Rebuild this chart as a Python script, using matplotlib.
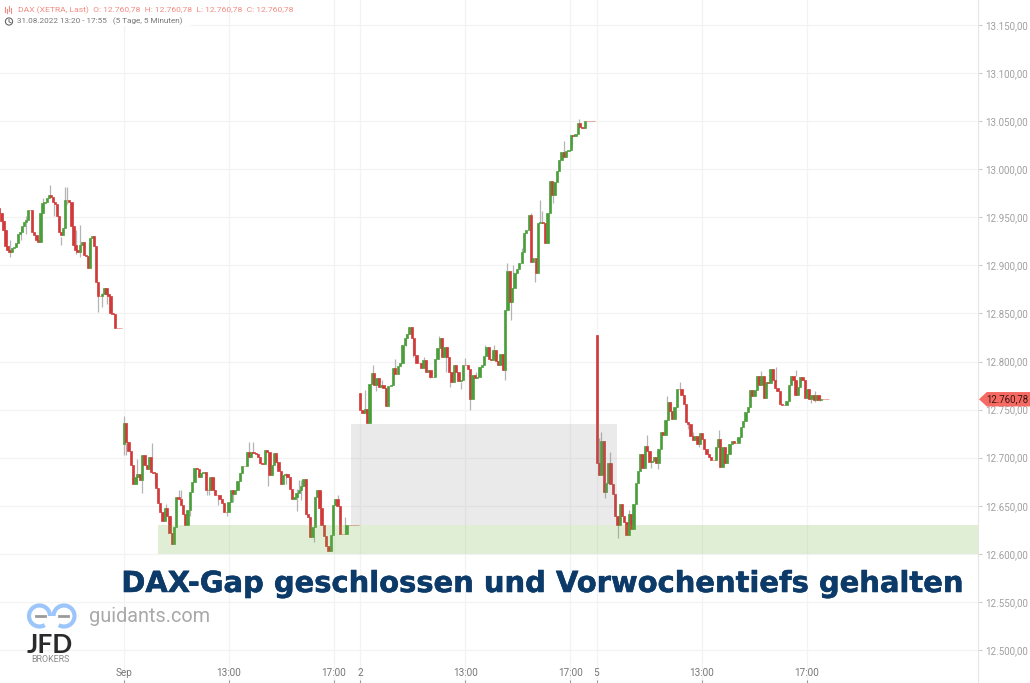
import numpy as np
import matplotlib
matplotlib.use('Agg')
import matplotlib.pyplot as plt
import matplotlib.patheffects as pe
from matplotlib.patches import Arc, Circle, Polygon, Rectangle

plt.rcParams['font.family'] = ['Roboto', 'DejaVu Sans']

# closing prices per session
open_0 = 12960
close_0 = [12954, 12946, 12937, 12920, 12916, 12914, 12918, 12919, 12923, 12933, 12935, 12941, 12945, 12947,
           12958, 12958, 12935, 12932, 12926, 12924, 12954, 12965, 12966, 12970, 12973, 12971, 12966, 12964,
           12951, 12935, 12932, 12939, 12968, 12968, 12966, 12941, 12921, 12916, 12914, 12921, 12924, 12911,
           12910, 12897, 12928, 12931, 12920, 12883, 12868, 12868, 12870, 12876, 12870, 12868, 12850, 12849,
           12835, 12835, 12835, 12835]
open_1 = 12714
close_1 = [12736, 12716, 12707, 12692, 12673, 12680, 12683, 12677, 12703, 12692, 12688, 12701,
           12685, 12684, 12669, 12653, 12644, 12634, 12648, 12639, 12622, 12610, 12628, 12659, 12657, 12651,
           12641, 12630, 12646, 12664, 12675, 12689, 12688, 12680, 12684, 12685, 12666, 12666, 12680, 12666,
           12661, 12661, 12657, 12653, 12644, 12644, 12654, 12666, 12662, 12666, 12676, 12684, 12691, 12691, 12706, 12701,
           12706, 12705, 12704, 12701, 12694, 12693, 12708, 12706, 12682, 12692, 12705, 12696, 12686, 12673,
           12682, 12683, 12680, 12667, 12657, 12659, 12663, 12666, 12671, 12678, 12641, 12638, 12618, 12628,
           12659, 12666, 12648, 12630, 12619, 12608, 12603, 12620, 12651, 12657, 12650, 12621, 12621, 12621,
           12630, 12630, 12630, 12630, 12630, 12630]
open_2 = 12767
close_2 = [12750, 12746, 12751, 12736, 12777, 12788, 12776, 12783, 12774, 12776, 12773, 12754, 12775, 12776,
           12793, 12787, 12795, 12798, 12817, 12824, 12829, 12836, 12824, 12807, 12798, 12798, 12793, 12802,
           12789, 12791, 12784, 12784, 12803, 12814, 12825, 12805, 12815, 12805, 12789, 12779, 12796, 12789,
           12780, 12781, 12796, 12796, 12792, 12761, 12786, 12783, 12784, 12794, 12796, 12806, 12815, 12803,
           12802, 12812, 12801, 12796, 12808, 12791, 12854, 12894, 12862, 12877, 12892, 12896, 12902, 12914,
           12934, 12937, 12952, 12904, 12908, 12892, 12944, 12945, 12944, 12923, 12955, 12988, 12973, 12987,
           12998, 13010, 13018, 13013, 13019, 13020, 13036, 13035, 13037, 13048, 13044, 13043, 13050, 13050,
           13050, 13050, 13050]
open_3 = 12828
close_3 = [12694, 12682, 12717, 12664, 12674, 12695, 12673, 12662, 12639, 12630, 12652, 12639, 12633, 12620,
           12641, 12626, 12652, 12674, 12686, 12704, 12689, 12712, 12707, 12696, 12697, 12701, 12694, 12709,
           12727, 12724, 12739, 12758, 12749, 12740, 12753, 12771, 12771, 12765, 12756, 12737, 12735, 12723,
           12718, 12723, 12714, 12726, 12719, 12709, 12704, 12701, 12698, 12698, 12711, 12719, 12690, 12711,
           12694, 12704, 12714, 12717, 12715, 12715, 12722, 12732, 12738, 12748, 12753, 12770, 12764, 12770,
           12785, 12776, 12785, 12762, 12779, 12778, 12792, 12781, 12772, 12769, 12756, 12755, 12755, 12759,
           12776, 12785, 12781, 12765, 12774, 12784, 12781, 12762, 12771, 12761, 12765, 12760, 12765, 12760,
           12760.78, 12760.78, 12760.78, 12760.78]

# grey wicks, x in 5 minute slots from Sep 1 09:00
wick_x = [-52, -47, -45, -37, -34, -32, -29, -27, -26, -22, -20, -16, -12, -10, -8,
          0, 1, 6, 8, 13, 14, 19, 25, 26, 30, 38, 39, 41, 43, 47, 50, 53, 57, 59, 66, 70, 74, 79, 80, 81, 87, 90, 98, 101,
          110, 114, 115, 118, 124, 129, 132, 137, 140, 144, 147, 149, 154, 156, 158, 161, 165, 169, 174, 175, 177, 178,
          182, 186, 188, 190, 191, 196, 201, 205, 208,
          217, 218, 220, 222, 226, 231, 239, 241, 244, 248, 250, 254, 258, 260, 263, 272, 280, 291, 298, 307, 314, 316, 318]
wick_low = [12909, 12926, 12933, 12954, 12971, 12951, 12921, 12964, 12964, 12912, 12909, 12899, 12852, 12857, 12860,
            12703, 12703, 12673, 12663, 12701, 12671, 12639, 12659, 12657, 12639, 12661, 12661, 12664, 12651, 12639, 12654, 12677,
            12701, 12705, 12671, 12694, 12673, 12645, 12666, 12656, 12612, 12649, 12657, 12621,
            12751, 12788, 12769, 12774, 12793, 12816, 12805, 12798, 12783, 12825, 12789, 12774, 12771, 12796, 12750, 12783,
            12815, 12802, 12781, 12894, 12843, 12892, 12914, 12952, 12883, 12944, 12945, 12965, 13013, 13025, 13048,
            12682, 12717, 12658, 12695, 12617, 12641, 12712, 12689, 12688, 12758, 12743, 12771, 12730, 12723, 12711,
            12719, 12717, 12785, 12779, 12785, 12757, 12758, 12759]
wick_high = [12926, 12940, 12951, 12970, 12984, 12964, 12930, 12982, 12982, 12937, 12942, 12923, 12871, 12871, 12871,
             12743, 12715, 12699, 12677, 12715, 12685, 12652, 12666, 12666, 12646, 12668, 12679, 12680, 12657, 12644, 12662, 12684,
             12716, 12716, 12682, 12701, 12684, 12667, 12677, 12677, 12618, 12664, 12661, 12638,
             12770, 12796, 12776, 12781, 12803, 12829, 12825, 12805, 12791, 12827, 12805, 12779, 12779, 12804, 12761, 12789,
             12817, 12817, 12791, 12902, 12862, 12900, 12918, 12955, 12892, 12968, 12957, 12973, 13029, 13035, 13052,
             12720, 12727, 12664, 12706, 12630, 12646, 12724, 12696, 12694, 12764, 12758, 12779, 12736, 12727, 12714,
             12729, 12721, 12790, 12794, 12791, 12762, 12769, 12765]

y_ticks = list(range(12500, 13151, 50))
y_labels = ['12.500,00', '12.550,00', '12.600,00', '12.650,00', '12.700,00', '12.750,00', '12.800,00',
            '12.850,00', '12.900,00', '12.950,00', '13.000,00', '13.050,00', '13.100,00', '13.150,00']
x_ticks = [0, 48, 96, 108, 156, 204, 216, 264, 312]
x_labels = ['Sep', '13:00', '17:00', '2', '13:00', '17:00', '5', '13:00', '17:00']
last_price = 12760.78

RED = '#d13a3a'
GREEN = '#4b9e3c'
FLAT = '#e77f7c'

fig = plt.figure(figsize=(10.3, 6.83), dpi=100)
ax = fig.add_axes([0, 0, 978 / 1030, 1])
ax.set_xlim(-124 / 2.1875, (978 - 124) / 2.1875)
ax.set_ylim(13176 - 1.04 * 683, 13176)

ax.grid(True, color='#f3f3f3', lw=0.9)
ax.set_axisbelow(True)
for s in ['top', 'left', 'bottom']:
    ax.spines[s].set_visible(False)
ax.spines['right'].set_color('#e6e6e6')

# sessions: first slot, slots covered
sessions = [(open_0, close_0, -57, 56.5), (open_1, close_1, 0, 108),
            (open_2, close_2, 108, 108), (open_3, close_3, 216.2, 106.5)]
ax.vlines(wick_x, wick_low, wick_high, color='#b4b4b4', lw=0.9, zorder=2)
for first_open, closes, start, span in sessions:
    closes = np.array(closes, dtype=float)
    opens = np.r_[first_open, closes[:-1]]
    x = start + np.arange(len(closes)) * span / len(closes)
    colors = [GREEN if c > o else (RED if c < o else FLAT) for o, c in zip(opens, closes)]
    ax.bar(x, closes - opens, bottom=opens, width=1.05, color=colors, edgecolor=colors, lw=0.5, zorder=3)

# gap and support zones lie over the candles
ax.add_patch(Rectangle((103.8, 12630), 225.4 - 103.8, 12735 - 12630, color='#808080', alpha=0.16, lw=0, zorder=4))
ax.axhspan(12600, 12630, xmin=(158 / 978), xmax=1, color='#6db33f', alpha=0.21, lw=0, zorder=4)

ax.set_xticks(x_ticks)
ax.set_xticklabels(x_labels)
ax.tick_params(axis='x', direction='in', length=2, width=0.8, color='#999999', labelcolor='#777777',
               labelsize=7.2, pad=-11)
ax.yaxis.tick_right()
ax.set_yticks(y_ticks)
ax.set_yticklabels(y_labels)
ax.tick_params(axis='y', length=2.6, width=0.8, color='#cccccc', labelcolor='#a0a0a0', labelsize=7, pad=2.4)

# last price tag
tr = ax.get_yaxis_transform()
w = 1030 / 978 - 1
ax.add_patch(Polygon([(1.001, last_price), (1.009, last_price + 7.5), (1 + w, last_price + 7.5),
                      (1 + w, last_price - 7.5), (1.009, last_price - 7.5)],
                     transform=tr, color='#f56a62', lw=0, clip_on=False, zorder=10))
ax.text(1.0085, last_price, '12.760,78', transform=tr, fontsize=6.9, color='#3a1512', va='center', ha='left',
        zorder=11, clip_on=False)

# overlay in picture pixels for header, logo and headline
ov = fig.add_axes([0, 0, 1, 1], facecolor='none')
ov.set_xlim(0, 1030)
ov.set_ylim(683, 0)
ov.axis('off')

ov.add_patch(Rectangle((0, 0), 190, 26, color='white', lw=0))
ov.text(17.5, 10, 'DAX (XETRA, Last)  O: 12.760,78  H: 12.760,78  L: 12.760,78  C: 12.760,78',
        fontsize=6.1, color='#f28b82', va='center')
ov.text(17, 21.5, '31.08.2022 13:20 - 17:55   (5 Tage, 5 Minuten)', fontsize=5.9, color='#777777', va='center')
ov.add_patch(Circle((9, 21.5), 3.6, fc='none', ec='#666666', lw=0.8))
ov.plot([9, 9, 11], [19.5, 21.8, 22.8], color='#666666', lw=0.7)
for i, (a, b) in enumerate([(7, 12), (9, 13), (6, 11), (8, 13)]):
    ov.plot([5 + i * 2, 5 + i * 2], [a, b], color='#f28b82', lw=0.8)

title = ov.text(542.5, 592, 'DAX-Gap geschlossen und Vorwochentiefs gehalten', fontsize=20.85, fontweight='bold',
                family='DejaVu Sans', color='#0c3a69', ha='center', va='baseline')
title.set_path_effects([pe.withStroke(linewidth=0.4, foreground='#0c3a69')])

ov.text(89, 617, 'guidants.com', fontsize=14.3, color='#a9a9a9', va='center')
ov.add_patch(Arc((39.5, 616), 21, 21, theta1=60, theta2=360, color='#9cc6fa', lw=3))
ov.add_patch(Arc((64, 616), 21, 21, theta1=180, theta2=480, color='#9cc6fa', lw=3))
ov.plot([36, 45], [616, 616], color='#9a9a9a', lw=2)
ov.plot([59, 68], [616, 616], color='#9a9a9a', lw=2)
ov.text(50, 645, 'JFD', fontsize=19, fontweight='bold', family='Lato', color='#2b2b2b', ha='center', va='center')
ov.text(50, 660, 'BROKERS', fontsize=6.4, color='#8a8a8a', ha='center', va='center')

fig.savefig('out.png', dpi=100)
